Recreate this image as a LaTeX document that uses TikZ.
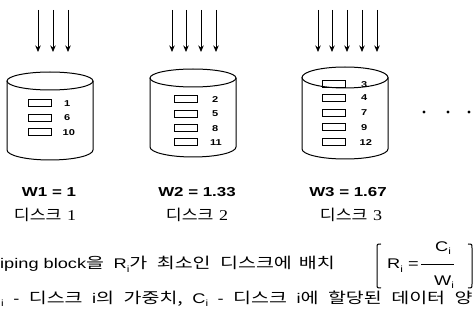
\documentclass[tikz,border=0pt]{standalone}
\usepackage{fontspec}
\usetikzlibrary{arrows.meta}
\setmainfont[FakeStretch=1.3]{Liberation Sans}
\newfontfamily\kr{Noto Sans CJK KR}
\newfontfamily\ser[FakeStretch=1.2]{Liberation Serif}
\newcommand{\lowi}{\raisebox{-0.45ex}{\fontsize{9}{9}\selectfont i}}
\newcommand{\K}[1]{\scalebox{1.3}[1]{\kr\fontsize{15}{15}\selectfont #1}}
\newcommand{\KL}[1]{\scalebox{1.15}[1]{\kr #1}}
\newcommand{\G}{\hspace{9.5pt}}
\tikzset{
  arr/.style={-{Stealth[length=6.5pt,width=5.5pt]}, line width=0.8pt},
  cyl/.style={line width=1pt},
  blk/.style={draw, line width=1pt, minimum width=23pt, minimum height=7pt, inner sep=0pt},
  num/.style={anchor=west, inner sep=0pt, font=\bfseries\fontsize{8.5}{8.5}\selectfont},
  wlab/.style={inner sep=0pt, font=\bfseries\fontsize{13}{13}\selectfont},
  dlab/.style={inner sep=0pt, font=\fontsize{15}{15}\selectfont},
  txt/.style={inner sep=0pt, anchor=base west, font=\fontsize{14}{14}\selectfont},
  brk/.style={line width=1pt},
  dot/.style={fill=black, circle, inner sep=0pt, minimum size=3.2pt}
}
\begin{document}
\begin{tikzpicture}[x=1pt,y=-1pt]
\useasboundingbox (0,0) rectangle (474,331);
\clip (0,0) rectangle (474,331);

% arrows
\foreach \x [count=\k] in {38,53,68}{
  \coordinate (a1s\k) at (\x,10); \coordinate (a1e\k) at (\x,52);
  \draw[arr] (a1s\k) -- (a1e\k);}
\foreach \x [count=\k] in {172,186,201,216}{
  \coordinate (a2s\k) at (\x,10); \coordinate (a2e\k) at (\x,52);
  \draw[arr] (a2s\k) -- (a2e\k);}
\foreach \x [count=\k] in {318,332,347,362,377}{
  \coordinate (a3s\k) at (\x,10); \coordinate (a3e\k) at (\x,52);
  \draw[arr] (a3s\k) -- (a3e\k);}

% disk 1
\draw[cyl] (50,81) ellipse [x radius=43, y radius=9];
\draw[cyl] (7,81) -- (7,150) arc[start angle=180, end angle=0, x radius=43, y radius=10] -- (93,81);
\node[blk] (b11) at (39.5,103.5) {};
\node[blk] (b12) at (39.5,118) {};
\node[blk] (b13) at (39.5,132.5) {};
\node[num] (n11) at (64,103.5) {1};
\node[num] (n12) at (64,118) {6};
\node[num] (n13) at (62.5,132.5) {10};

% disk 2
\draw[cyl] (193,78) ellipse [x radius=43, y radius=9];
\draw[cyl] (150,78) -- (150,147) arc[start angle=180, end angle=0, x radius=43, y radius=10] -- (236,78);
\node[blk] (b21) at (186,99.5) {};
\node[blk] (b22) at (186,114) {};
\node[blk] (b23) at (186,128.5) {};
\node[blk] (b24) at (186,142.5) {};
\node[num] (n21) at (212,99.5) {2};
\node[num] (n22) at (212,114) {5};
\node[num] (n23) at (212,128.5) {8};
\node[num] (n24) at (210,142.5) {11};

% disk 3
\draw[cyl] (345,77.5) ellipse [x radius=43, y radius=10.5];
\draw[cyl] (302,77.5) -- (302,149) arc[start angle=180, end angle=0, x radius=43, y radius=10] -- (388,77.5);
\node[blk] (b31) at (333.5,84.5) {};
\node[blk] (b32) at (333.5,98) {};
\node[blk] (b33) at (333.5,113) {};
\node[blk] (b34) at (333.5,127.5) {};
\node[blk] (b35) at (333.5,142.5) {};
\node[num] (n31) at (361,84.5) {3};
\node[num] (n32) at (361,98) {4};
\node[num] (n33) at (361,113) {7};
\node[num] (n34) at (361,127.5) {9};
\node[num] (n35) at (359.5,142.5) {12};

% dots
\node[dot] (p1) at (424,112) {};
\node[dot] (p2) at (448,112) {};
\node[dot] (p3) at (469,112) {};

% labels
\node[wlab] (w1) at (49,192) {W1 = 1};
\node[wlab] (w2) at (197,192) {W2 = 1.33};
\node[wlab] (w3) at (348,192) {W3 = 1.67};
\node[dlab] (k1) at (45,215) {\KL{디스크} {\ser 1}};
\node[dlab] (k2) at (197,215) {\KL{디스크} {\ser 2}};
\node[dlab] (k3) at (351,215) {\KL{디스크} {\ser 3}};

% bottom text
\node[txt] (l1) at (0,269) {iping block\K{을}\G R\lowi\K{가}\G\K{최소인}\G\K{디스크에}\hspace{7pt}\K{배치}};
\node[txt] (l2) at (1,303) {\lowi\G-\G\K{디스크}\G i\K{의}\G\K{가중치,}\G C\lowi\G-\G\K{디스크}\G i\K{에}\G\K{할당된}\G\K{데이터}\G\K{양}};

% formula
\node[txt] (r) at (387,269) {R\lowi{} =};
\node[inner sep=0pt, font=\fontsize{14}{14}\selectfont] (c) at (443,248) {C\lowi};
\node[inner sep=0pt, font=\fontsize{14}{14}\selectfont] (wi) at (444,282) {W\lowi};
\coordinate (bar1) at (421,264);
\coordinate (bar2) at (454,264);
\draw[line width=0.9pt] (bar1) -- (bar2);
\draw[brk] (381,244) .. controls (377,244) .. (377,248) -- (377,284) .. controls (377,288) .. (381,288);
\draw[brk] (468,244) .. controls (472,244) .. (472,248) -- (472,284) .. controls (472,288) .. (468,288);
\end{tikzpicture}
\end{document}
